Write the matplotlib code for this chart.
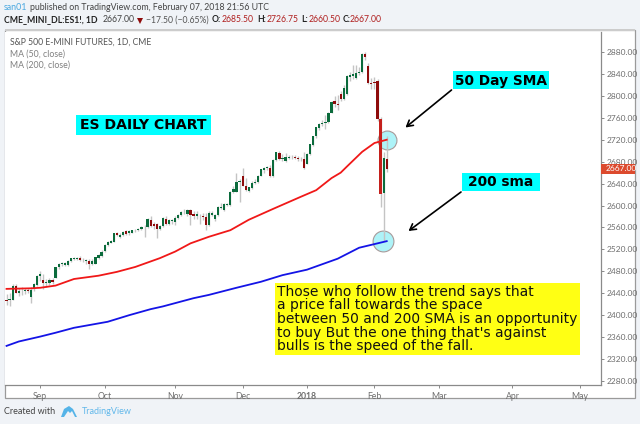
#!/usr/bin/env python3
# ES daily chart with 50/200 SMA, TradingView style
import numpy as np
import matplotlib
matplotlib.use("Agg")
import matplotlib.pyplot as plt
from matplotlib.patches import Rectangle, Polygon, FancyArrowPatch

# ---------------- data ----------------
opens = [2428,2428,2428,2454,2441,2444,2445,2446,2434,2447,
         2455,2472,2464,2458,2459,2464,2468,2487,2494,2492,
         2492,2499,2503,2502,2505,2500,2498,2499,2494,2494,
         2504,2508,2517,2528,2532,2534,2549,2543,2546,2553,
         2549,2550,2555,2556,2557,2560,2561,2574,2567,2566,
         2558,2563,2575,2566,2572,2570,2577,2583,2588,2584,
         2592,2584,2580,2580,2581,2579,2565,2583,2576,2583,
         2596,2592,2601,2601,2625,2625,2643,2654,2636,2627,
         2632,2641,2643,2654,2665,2669,2668,2653,2683,2696,
         2684,2682,2687,2688,2688,2686,2686,2684,2676,2694,
         2710,2726,2741,2749,2751,2752,2769,2790,2786,2803,
         2795,2803,2834,2836,2833,2842,2844,2876,2855,2824,
         2826,2827,2758,2623,2685.5]
highs = [2438,2440,2456,2456,2449,2452,2449,2450,2452,2458,
         2474,2480,2476,2466,2468,2468,2488,2496,2497,2497,
         2500,2505,2507,2507,2508,2504,2503,2502,2502,2507,
         2512,2518,2530,2536,2538,2550,2552,2549,2553,2556,
         2555,2556,2558,2559,2562,2564,2577,2580,2570,2568,
         2564,2579,2580,2576,2575,2580,2584,2590,2593,2593,
         2594,2590,2590,2584,2586,2586,2590,2590,2585,2600,
         2604,2604,2605,2626,2635,2660,2648,2668,2650,2634,
         2645,2648,2656,2667,2670,2672,2673,2684,2698,2699,
         2694,2695,2692,2692,2692,2690,2688,2698,2696,2713,
         2727,2744,2750,2756,2765,2770,2790,2800,2802,2808,
         2820,2838,2844,2856,2856,2852,2878,2880,2860,2832,
         2835,2830,2762,2697,2726.75]
lows = [2419,2416,2427,2440,2435,2437,2439,2440,2423,2445,
        2453,2462,2447,2452,2455,2456,2467,2485,2490,2489,
        2490,2497,2500,2500,2499,2497,2494,2485,2492,2493,
        2503,2507,2516,2526,2531,2533,2544,2541,2544,2546,
        2547,2549,2552,2553,2555,2543,2559,2560,2558,2541,
        2555,2561,2565,2564,2567,2565,2575,2580,2585,2580,
        2565,2575,2576,2566,2574,2556,2563,2581,2572,2580,
        2593,2590,2599,2600,2622,2624,2607,2636,2627,2625,
        2630,2639,2641,2653,2660,2665,2652,2652,2682,2683,
        2681,2680,2684,2685,2684,2682,2682,2667,2675,2692,
        2708,2724,2738,2745,2740,2750,2768,2780,2775,2790,
        2793,2802,2828,2830,2830,2838,2842,2865,2822,2812,
        2812,2755,2597,2535,2660.5]
closes = [2425,2429,2454,2441,2444,2445,2446,2444,2446,2456,
          2472,2476,2458,2461,2465,2460,2487,2494,2495,2495,
          2499,2504,2504,2505,2500,2501,2501,2494,2499,2506,
          2510,2516,2528,2534,2535,2549,2546,2547,2551,2548,
          2553,2555,2556,2557,2560,2561,2575,2563,2563,2558,
          2563,2578,2567,2573,2573,2578,2583,2589,2589,2592,
          2583,2580,2584,2581,2579,2565,2587,2587,2583,2598,
          2597,2602,2603,2625,2631,2643,2644,2636,2628,2634,
          2641,2643,2654,2666,2669,2670,2653,2683,2697,2684,
          2686,2688,2688,2689,2686,2685,2687,2668,2694,2712,
          2726,2743,2749,2750,2752,2769,2789,2786,2783,2795,
          2815,2836,2838,2840,2842,2844,2876,2870,2823,2821,
          2823,2758,2621,2687,2667]

ma50_bars = [0,8,11,16,22,30,36,42,50,55,60,66,73,79,87,96,101,106,109,111,116,120,124]
ma50_vals = [2448,2449,2450,2454,2466,2472,2479,2488,2504,2516,2531,2543,2555,2574,2594,
             2616,2628,2650,2660,2671,2698,2714,2720]
ma200_bars = [0,4,11,16,22,33,40,47,51,57,61,66,75,83,90,98,108,115,124]
ma200_vals = [2344,2352,2361,2368,2377,2388,2400,2411,2416,2425,2431,2437,2450,2461,2473,
              2483,2503,2523,2535]

month_bars = [11,32,55,77,98,120,141,165,187]
month_labels = ["Sep","Oct","Nov","Dec","2018","Feb","Mar","Apr","May"]
price_ticks = list(range(2280, 2881, 40))
last_price = 2667.0

note = ("Those who follow the trend says that\n"
        "a price fall towards the space\n"
        "between 50 and 200 SMA is an opportunity\n"
        "to buy But the one thing that's against\n"
        "bulls is the speed of the fall.")

# ---------------- helpers ----------------
W, H = 640, 424
UP, DOWN, WICK = "#0b6b3c", "#8e0b0b", "#c4c4c4"
BG, AXC = "#f0f3f7", "#8a8a8a"
UI = ["Lato", "DejaVu Sans"]

def fx(x): return x / W
def fy(y): return 1 - y / H

fig = plt.figure(figsize=(6.4, 4.24), dpi=100, facecolor=BG)

def label(x, y, s, **kw):
    kw.setdefault("fontsize", 6.4)
    kw.setdefault("family", UI)
    kw.setdefault("va", "center")
    return fig.text(fx(x), fy(y), s, **kw)

# pane frame
fig.add_artist(Rectangle((fx(4.5), fy(398)), fx(630.5), 368 / H, transform=fig.transFigure,
                         fc="white", ec="#9a9a9a", lw=0.9, zorder=0))
fig.add_artist(Rectangle((fx(4.5), fy(31)), fx(630.5), 2 / H, transform=fig.transFigure,
                         fc="#cccccc", ec="none", zorder=0.5))

ax = fig.add_axes([fx(5), fy(385), 595.5 / W, 353.5 / H], facecolor="white")
bar_px = 3.066
ax.set_xlim(-0.5, -0.5 + 595.5 / bar_px)
ax.set_ylim(2880 - (385 - 52) / 0.5483, 2880 + (52 - 31.5) / 0.5483)

# ---------------- candles ----------------
o = np.array(opens, float); h = np.array(highs, float)
l = np.array(lows, float); c = np.array(closes, float)
x = np.arange(len(c))
cols = [UP if cc >= oo else DOWN for oo, cc in zip(o, c)]
cols[-3] = "#c4201c"  # the big drop shows brighter

# circles sit under everything
ax.plot([x[-1]], [ma50_vals[-1]], "o", ms=13.6, mfc="#aef3f8", mec="#a89a9a", mew=0.8, zorder=1)
ax.plot([x[-1] - 1.2], [ma200_vals[-1]], "o", ms=15, mfc="#aef3f8", mec="#a89a9a", mew=0.8, zorder=1)

ax.vlines(x, l, h, color=WICK, lw=1.0, zorder=2)
ax.bar(x, np.maximum(np.abs(c - o), 1.0), bottom=np.minimum(o, c), width=0.72, color=cols, lw=0, zorder=3)

ax.plot(ma50_bars, ma50_vals, color="#f01818", lw=1.3, zorder=4)
ax.plot(ma200_bars, ma200_vals, color="#1414e6", lw=1.3, zorder=4)

# ---------------- axes ----------------
for s in ["top", "left"]:
    ax.spines[s].set_visible(False)
for s in ["right", "bottom"]:
    ax.spines[s].set_color(AXC)
    ax.spines[s].set_linewidth(0.9)
ax.set_xticks(month_bars)
ax.set_xticklabels(month_labels, family=UI, fontsize=6.2, color="#6e6e6e")
ax.get_xticklabels()[4].set_fontweight("bold")
ax.yaxis.tick_right()
ax.set_yticks(price_ticks)
ax.set_yticklabels([f"{p:.2f}" for p in price_ticks], family=UI, fontsize=6.0, color="#6e6e6e")
ax.tick_params(axis="x", length=2.5, width=0.7, color=AXC, pad=2.5)
ax.tick_params(axis="y", length=2.5, width=0.7, color=AXC, pad=2)

# last price tag, over the 2680 label like the original
ax.add_patch(Rectangle((1.0, last_price - 9.5), 34 / 595.5, 19, transform=ax.get_yaxis_transform(),
                       fc="#dc4a2e", ec="none", clip_on=False, zorder=6))
ax.text(1.0 + 5 / 595.5, last_price, f"{last_price:.2f}", transform=ax.get_yaxis_transform(), ha="left",
        va="center", color="white", fontsize=6.0, family=UI, clip_on=False, zorder=7)

# ---------------- header / footer ----------------
label(4, 8, "san01", color="#4aa8e0", fontsize=6.4)
label(30, 8, "published on TradingView.com, February 07, 2018 21:56 UTC", color="#444444", fontsize=6.3)
label(4, 20, "CME_MINI_DL:ES1!, 1D", color="#222222", fontweight="bold", fontsize=6.2)
label(103, 20, "2667.00", color="#444444", fontsize=6.2)
fig.add_artist(Polygon([[fx(137), fy(18)], [fx(143), fy(18)], [fx(140), fy(24)]],
                       transform=fig.transFigure, fc=DOWN, ec="none"))
label(146, 20, "\u221217.50 (\u22120.65%)", color="#555555", fontsize=6.2)
for px_, s_, col_, bold_ in [(212, "O:", "#222222", True), (222, "2685.50", "#b02020", False),
                             (257, "H:", "#222222", True), (267, "2726.75", "#b02020", False),
                             (301, "L:", "#222222", True), (309, "2660.50", "#b02020", False),
                             (343, "C:", "#222222", True), (350, "2667.00", "#b02020", False)]:
    label(px_, 20, s_, color=col_, fontsize=6.2, fontweight="bold" if bold_ else "normal")

label(10, 42, "S&P 500 E-MINI FUTURES, 1D, CME", color="#555555", fontsize=6.2)
label(10, 54, "MA (50, close)", color="#808080", fontsize=6.3)
label(10, 65, "MA (200, close)", color="#808080", fontsize=6.3)

label(4, 412, "Created with", color="#444444", fontsize=6.5)
label(82, 412, "TradingView", color="#62b8ea", fontsize=6.5)
fig.add_artist(Polygon([[fx(61), fy(417)], [fx(64), fy(409)], [fx(69), fy(406)], [fx(73), fy(409)],
                        [fx(77), fy(417)]], transform=fig.transFigure, fc="#55b4e8", ec="none"))
fig.add_artist(Polygon([[fx(64), fy(417)], [fx(68), fy(411)], [fx(70), fy(413)], [fx(72), fy(411)],
                        [fx(75), fy(417)]], transform=fig.transFigure, fc=BG, ec="none"))

# ---------------- annotations ----------------
def tag(x0, y0, x1, y1, s, fs):
    fig.add_artist(Rectangle((fx(x0), fy(y1)), (x1 - x0) / W, (y1 - y0) / H, transform=fig.transFigure,
                             fc="#00ffff", ec="none", zorder=7))
    fig.text(fx((x0 + x1) / 2), fy((y0 + y1) / 2 + 0.5), s, ha="center", va="center", family="DejaVu Sans",
             fontweight="bold", fontsize=fs, color="black", zorder=8)

tag(76, 115, 211, 135, "ES DAILY CHART", 10.1)
tag(453, 71, 549, 89, "50 Day SMA", 9.9)
tag(462, 173, 540, 191, "200 sma", 9.9)

for start, end in [((451.5, 90), (405.5, 127.5)), ((461, 192), (408.5, 231))]:
    fig.add_artist(FancyArrowPatch(
        (fx(start[0]), fy(start[1])), (fx(end[0]), fy(end[1])), transform=fig.transFigure,
        arrowstyle="->,head_length=4.2,head_width=2.4", color="black", lw=1.2, shrinkA=0, shrinkB=0, zorder=7))

fig.add_artist(Rectangle((fx(275), fy(355)), 305 / W, 72.5 / H, transform=fig.transFigure,
                         fc="#ffff14", ec="none", zorder=7))
fig.text(fx(277), fy(319), note, ha="left", va="center", family="DejaVu Sans", fontsize=10.0,
         color="#111111", linespacing=0.97, zorder=8)

fig.savefig("out.png", dpi=100, facecolor=BG)
